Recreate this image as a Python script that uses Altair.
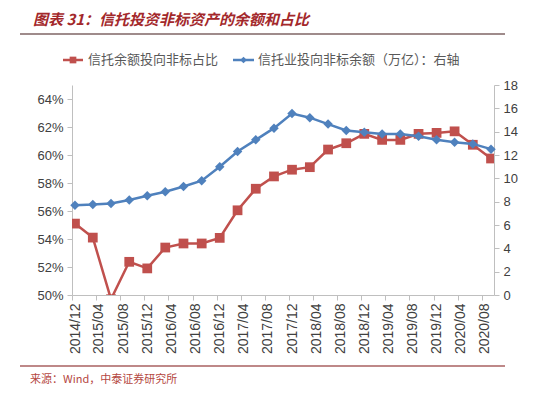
import altair as alt
import pandas as pd

# ---- data ----
quarters = ["2014-12", "2015-03", "2015-06", "2015-09", "2015-12", "2016-03",
            "2016-06", "2016-09", "2016-12", "2017-03", "2017-06", "2017-09",
            "2017-12", "2018-03", "2018-06", "2018-09", "2018-12", "2019-03",
            "2019-06", "2019-09", "2019-12", "2020-03", "2020-06", "2020-09"]
share_pct = [55.10, 54.10, 49.70, 52.37, 51.90, 53.39, 53.68, 53.68, 54.08, 56.05,
             57.59, 58.47, 58.95, 59.13, 60.39, 60.84, 61.51, 61.08, 61.08, 61.51,
             61.58, 61.69, 60.73, 59.75]
balance = [7.70, 7.75, 7.85, 8.15, 8.50, 8.85, 9.30, 9.80, 11.00, 12.30, 13.30, 14.30,
           15.55, 15.20, 14.65, 14.10, 13.95, 13.80, 13.80, 13.60, 13.30, 13.10, 12.95, 12.50]
tick_months = ["2014-12", "2015-04", "2015-08", "2015-12", "2016-04", "2016-08",
               "2016-12", "2017-04", "2017-08", "2017-12", "2018-04", "2018-08",
               "2018-12", "2019-04", "2019-08", "2019-12", "2020-04", "2020-08"]
left_ticks = [0.50, 0.52, 0.54, 0.56, 0.58, 0.60, 0.62, 0.64]
right_ticks = [0, 2, 4, 6, 8, 10, 12, 14, 16, 18]

title_text = "图表 31：信托投资非标资产的余额和占比"
legend_red = "信托余额投向非标占比"
legend_blue = "信托业投向非标余额（万亿）：右轴"
source_text = "来源：Wind，中泰证券研究所"

RED = "#C0504D"
BLUE = "#4F81BD"
TITLE_RED = "#A3282B"
AXIS_GRAY = "#BFBFBF"
LABEL = "#404040"
CJK = "Noto Sans CJK SC"

df = pd.DataFrame({
    "date": pd.to_datetime([q + "-16" for q in quarters]),
    "share": [v / 100 for v in share_pct],
    "balance": balance,
})


def dt(ym):
    y, m = ym.split("-")
    return alt.DateTime(year=int(y), month=int(m), date=1)


x_enc = alt.X(
    "date:T",
    scale=alt.Scale(domain=[dt("2014-12"), dt("2020-10")], nice=False),
    axis=alt.Axis(values=[dt(t) for t in tick_months], format="%Y/%m",
                  labelAngle=270, labelOffset=3, labelPadding=3, labelFontSize=14,
                  tickSize=5, title=None, grid=False),
)

left_y = alt.Y("share:Q",
               scale=alt.Scale(domain=[0.50, 0.65], nice=False, zero=False),
               axis=alt.Axis(orient="left", values=left_ticks, format=".0%",
                             tickSize=5, title=None, grid=False, labelPadding=4))
right_y = alt.Y("balance:Q",
                scale=alt.Scale(domain=[0, 18], nice=False),
                axis=alt.Axis(orient="right", values=right_ticks, format="d",
                              tickSize=5, title=None, grid=False, labelPadding=4))

base = alt.Chart(df)
red_layer = alt.layer(
    base.mark_line(color=RED, strokeWidth=2.5, clip=True).encode(x=x_enc, y=left_y),
    base.mark_point(shape="square", filled=True, size=95, color=RED, opacity=1,
                    clip=True).encode(x=x_enc, y=left_y),
)
blue_layer = alt.layer(
    base.mark_line(color=BLUE, strokeWidth=2.5).encode(x=x_enc, y=right_y),
    base.mark_point(shape="diamond", filled=True, size=90, color=BLUE,
                    opacity=1).encode(x=x_enc, y=right_y),
)

one = alt.Chart(pd.DataFrame({"k": [0]}))


def label(text, x, y, size, color, font=CJK, **kw):
    return one.mark_text(text=text, font=font, fontSize=size, color=color,
                         align="left", baseline="middle", **kw).encode(
        x=alt.value(x), y=alt.value(y))


annotations = alt.layer(
    label(title_text, -39, -65, 15, TITLE_RED, fontWeight="bold", fontStyle="italic"),
    one.mark_rule(color="#7F6565", strokeWidth=1.5).encode(
        x=alt.value(-52), x2=alt.value(433), y=alt.value(-51)),
    # legend
    one.mark_rule(color=RED, strokeWidth=2.5).encode(
        x=alt.value(-9), x2=alt.value(11), y=alt.value(-25)),
    one.mark_point(shape="square", filled=True, size=45, color=RED, opacity=1).encode(
        x=alt.value(1), y=alt.value(-25)),
    label(legend_red, 16, -25, 13, "#595959"),
    one.mark_rule(color=BLUE, strokeWidth=2.5).encode(
        x=alt.value(161), x2=alt.value(182), y=alt.value(-25)),
    one.mark_point(shape="diamond", filled=True, size=45, color=BLUE, opacity=1).encode(
        x=alt.value(171.5), y=alt.value(-25)),
    label(legend_blue, 186, -25, 13, "#595959"),
    # footer
    one.mark_rule(color="#A86060", strokeWidth=1.5).encode(
        x=alt.value(-52), x2=alt.value(433), y=alt.value(281)),
    label(source_text, -42, 295, 11, "#B5473F"),
)

chart = alt.layer(red_layer, blue_layer, annotations).resolve_scale(
    y="independent"
).properties(
    width=422, height=210,
    autosize=alt.AutoSizeParams(type="none"),
    padding={"left": 64, "top": 77, "right": 48, "bottom": 92},
    background="white",
).configure_view(strokeWidth=0).configure_axis(
    domainColor=AXIS_GRAY, tickColor=AXIS_GRAY, labelColor=LABEL,
    labelFont="Liberation Sans", labelFontSize=13, domainWidth=1,
)

chart.save("out.html", embed_options={"renderer": "svg", "actions": False})
